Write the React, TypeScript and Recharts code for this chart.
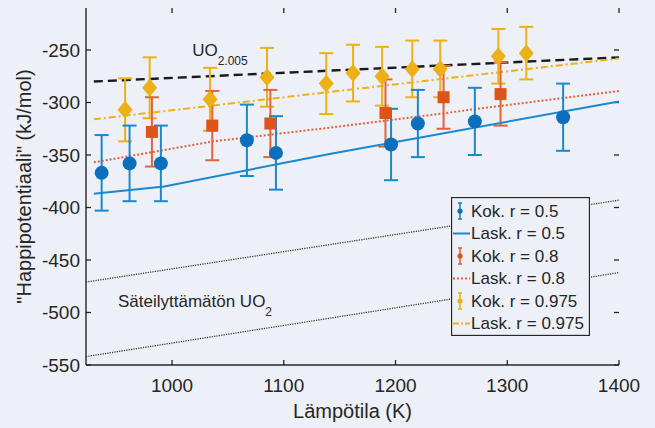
import React from 'react';
import {
  ComposedChart,
  XAxis,
  YAxis,
  Line,
  Scatter,
  ErrorBar,
  ReferenceDot,
  ReferenceLine,
  Label,
  Legend,
} from 'recharts';

const BG = '#eef0f7';
const AXIS = '#262626';
const FONT = '"Liberation Sans", Arial, Helvetica, sans-serif';

const BLUE = '#0b6fbb';
const BLUE_LINE = '#1a88cf';
const RED = '#dd5419';
const RED_LINE = '#e2623a';
const YELLOW = '#edb116';

// Axis ranges and ticks
const xDomain: [number, number] = [923, 1400];
const yDomain: [number, number] = [-550, -210];
const xTicks = [1000, 1100, 1200, 1300, 1400];
const yTicks = [-550, -500, -450, -400, -350, -300, -250];

// Measured values (Kok.) with error half-widths
const kok05T = [937, 962, 990, 1067, 1093, 1196, 1220, 1271, 1350];
const kok05V = [-367, -358, -358, -336, -348, -340, -320, -318, -314];
const kok05E = [36, 36, 36, 34, 35, 34, 32, 32, 32];

const kok08T = [982, 1036, 1088, 1191, 1243, 1294];
const kok08V = [-328, -322, -320, -310, -295, -292];
const kok08E = [33, 33, 32, 32, 30, 30];

const kok0975T = [958, 980, 1034, 1085, 1138, 1162, 1188, 1215, 1240, 1292, 1317];
const kok0975V = [-307, -286, -297, -276, -282, -272, -275, -268, -268, -256, -253];
const kok0975E = [30, 29, 30, 28, 29, 27, 28, 27, 27, 26, 25];

// Calculated curves (Lask.)
const lask05T = [930, 993, 1141, 1400];
const lask05V = [-387, -380, -349, -299];

const lask08T = [930, 989, 1037, 1141, 1400];
const lask08V = [-357, -346, -337, -324, -289];

const lask0975T = [930, 1400];
const lask0975V = [-316, -258];

// Reference lines: UO2.005 and unirradiated UO2 band
const uo2005T = [930, 1400];
const uo2005V = [-280, -257];

const uo2UpperT = [923, 1400];
const uo2UpperV = [-471, -393];
const uo2LowerT = [923, 1400];
const uo2LowerV = [-542, -462];

// Text annotation anchors (data coordinates)
const uo2005Label = { t: 1018, v: -255.7 };
const unirradLabel = { t: 951.6, v: -495 };

const zip = (t: number[], v: number[], e?: number[]) =>
  t.map((x, i) => ({ t: x, v: v[i], e: e ? e[i] : undefined }));

const kok05 = zip(kok05T, kok05V, kok05E);
const kok08 = zip(kok08T, kok08V, kok08E);
const kok0975 = zip(kok0975T, kok0975V, kok0975E);
const lask05 = zip(lask05T, lask05V);
const lask08 = zip(lask08T, lask08V);
const lask0975 = zip(lask0975T, lask0975V);
const uo2005 = zip(uo2005T, uo2005V);
const uo2Upper = zip(uo2UpperT, uo2UpperV);
const uo2Lower = zip(uo2LowerT, uo2LowerV);

// Plot box size in pixels, used to express the inward tick length in data units
const PLOT_W = 533;
const PLOT_H = 357;
const TICK_PX = 5;
const xTickLen = (TICK_PX * (xDomain[1] - xDomain[0])) / PLOT_W;
const yTickLen = (TICK_PX * (yDomain[1] - yDomain[0])) / PLOT_H;

const CircleMark = (p: any) => <circle cx={p.cx} cy={p.cy} r={7} fill={BLUE} />;
const SquareMark = (p: any) => (
  <rect x={p.cx - 6} y={p.cy - 6} width={12} height={12} fill={RED} />
);
const DiamondMark = (p: any) => (
  <polygon
    points={`${p.cx},${p.cy - 9} ${p.cx + 7.5},${p.cy} ${p.cx},${p.cy + 9} ${p.cx - 7.5},${p.cy}`}
    fill={YELLOW}
  />
);

type LegendItem = {
  label: string;
  kind: 'err' | 'line';
  color: string;
  marker?: string;
  dash?: string;
};

const legendItems: LegendItem[] = [
  { label: 'Kok. r = 0.5', kind: 'err', color: BLUE_LINE, marker: BLUE },
  { label: 'Lask. r = 0.5', kind: 'line', color: BLUE_LINE },
  { label: 'Kok. r = 0.8', kind: 'err', color: RED_LINE, marker: RED },
  { label: 'Lask. r = 0.8', kind: 'line', color: RED_LINE, dash: '2 2' },
  { label: 'Kok. r = 0.975', kind: 'err', color: YELLOW, marker: YELLOW },
  { label: 'Lask. r = 0.975', kind: 'line', color: YELLOW, dash: '6 2 2 2' },
];

const renderLegend = () => (
  <svg width={139} height={139} style={{ display: 'block' }}>
    <rect x={0.5} y={0.5} width={138} height={138} fill={BG} stroke={AXIS} strokeWidth={1.3} />
    {legendItems.map((it, i) => {
      const cy = 14 + i * 22.5;
      return (
        <g key={it.label}>
          {it.kind === 'err' ? (
            <g>
              <line x1={9} x2={9} y1={cy - 8} y2={cy + 8} stroke={it.color} strokeWidth={1.6} />
              <line x1={7} x2={11} y1={cy - 8} y2={cy - 8} stroke={it.color} strokeWidth={1.6} />
              <line x1={7} x2={11} y1={cy + 8} y2={cy + 8} stroke={it.color} strokeWidth={1.6} />
              <circle cx={9} cy={cy} r={2.6} fill={it.marker} />
            </g>
          ) : (
            <line
              x1={2}
              x2={19}
              y1={cy}
              y2={cy}
              stroke={it.color}
              strokeWidth={2}
              strokeDasharray={it.dash}
            />
          )}
          <text
            x={20}
            y={cy}
            dominantBaseline="central"
            fontFamily={FONT}
            fontSize={17}
            fill={AXIS}
          >
            {it.label}
          </text>
        </g>
      );
    })}
  </svg>
);

const SubText = (main: string, sub: string, dy: number) => (props: any) => {
  const vb = props.viewBox || {};
  return (
    <text x={vb.x} y={vb.y} fontFamily={FONT} fontSize={17} fill={AXIS}>
      <tspan>{main}</tspan>
      <tspan fontSize={12} dy={dy}>
        {sub}
      </tspan>
    </text>
  );
};

const YLabel = (props: any) => {
  const vb = props.viewBox;
  const x = vb.x + 24;
  const y = vb.y + vb.height / 2;
  return (
    <text
      x={x}
      y={y}
      transform={`rotate(-90, ${x}, ${y})`}
      textAnchor="middle"
      dominantBaseline="central"
      fontFamily={FONT}
      fontSize={20}
      fill={AXIS}
    >
      "Happipotentiaali" (kJ/mol)
    </text>
  );
};

const XLabel = (props: any) => {
  const vb = props.viewBox;
  return (
    <text
      x={vb.x + vb.width / 2}
      y={vb.y + 53}
      textAnchor="middle"
      fontFamily={FONT}
      fontSize={20}
      fill={AXIS}
    >
      Lämpötila (K)
    </text>
  );
};

const tickStyle = { fill: AXIS, fontSize: 19, fontFamily: FONT };
const axisLine = { stroke: AXIS, strokeWidth: 1.4 };
const tickLineProps = { stroke: AXIS, strokeWidth: 1.3, ifOverflow: 'visible' as const };

export default function App() {
  return (
    <div
      style={{
        position: 'fixed',
        left: 0,
        top: 0,
        width: 655,
        height: 428,
        background: BG,
      }}
    >
      <ComposedChart width={655} height={428} margin={{ top: 8, right: 36, bottom: 0, left: 0 }}>
        <XAxis
          dataKey="t"
          type="number"
          domain={xDomain}
          ticks={xTicks}
          allowDataOverflow
          height={63}
          tickLine={false}
          tickSize={0}
          tickMargin={13.5}
          stroke={AXIS}
          axisLine={axisLine}
          tick={tickStyle}
        >
          <Label content={XLabel} />
        </XAxis>
        <XAxis
          xAxisId="top"
          orientation="top"
          dataKey="t"
          type="number"
          domain={xDomain}
          ticks={xTicks}
          allowDataOverflow
          height={0}
          tickLine={false}
          tick={false}
          stroke={AXIS}
          axisLine={axisLine}
        />
        <YAxis
          type="number"
          domain={yDomain}
          ticks={yTicks}
          allowDataOverflow
          width={86}
          tickLine={false}
          tickSize={0}
          tickMargin={6}
          stroke={AXIS}
          axisLine={axisLine}
          tick={tickStyle}
        >
          <Label content={YLabel} />
        </YAxis>
        <YAxis
          yAxisId="right"
          orientation="right"
          type="number"
          domain={yDomain}
          ticks={yTicks}
          allowDataOverflow
          width={0}
          tickLine={false}
          tick={false}
          stroke={AXIS}
          axisLine={axisLine}
        />

        {/* Inward tick marks on all four sides */}
        {xTicks.map((t) => (
          <ReferenceLine
            key={`xb${t}`}
            segment={[
              { x: t, y: yDomain[0] },
              { x: t, y: yDomain[0] + yTickLen },
            ]}
            {...tickLineProps}
          />
        ))}
        {xTicks.map((t) => (
          <ReferenceLine
            key={`xt${t}`}
            segment={[
              { x: t, y: yDomain[1] },
              { x: t, y: yDomain[1] - yTickLen },
            ]}
            {...tickLineProps}
          />
        ))}
        {yTicks.map((v) => (
          <ReferenceLine
            key={`yl${v}`}
            segment={[
              { x: xDomain[0], y: v },
              { x: xDomain[0] + xTickLen, y: v },
            ]}
            {...tickLineProps}
          />
        ))}
        {yTicks.map((v) => (
          <ReferenceLine
            key={`yr${v}`}
            segment={[
              { x: xDomain[1], y: v },
              { x: xDomain[1] - xTickLen, y: v },
            ]}
            {...tickLineProps}
          />
        ))}

        {/* Reference lines */}
        <Line data={uo2Upper} dataKey="v" stroke="#333" strokeWidth={1.3} strokeDasharray="1.2 1.2" dot={false} isAnimationActive={false} legendType="none" />
        <Line data={uo2Lower} dataKey="v" stroke="#333" strokeWidth={1.3} strokeDasharray="1.2 1.2" dot={false} isAnimationActive={false} legendType="none" />
        <Line data={uo2005} dataKey="v" stroke="#1a1a1a" strokeWidth={2.4} strokeDasharray="9 5" dot={false} isAnimationActive={false} legendType="none" />

        {/* r = 0.975 */}
        <Scatter data={kok0975} dataKey="v" fill={YELLOW} shape={DiamondMark} isAnimationActive={false} legendType="none">
          <ErrorBar dataKey="e" direction="y" width={7} stroke={YELLOW} strokeWidth={2} isAnimationActive={false} />
        </Scatter>
        <Line data={lask0975} dataKey="v" stroke={YELLOW} strokeWidth={2} strokeDasharray="7 3 2 3" dot={false} isAnimationActive={false} legendType="none" />

        {/* r = 0.8 */}
        <Scatter data={kok08} dataKey="v" fill={RED} shape={SquareMark} isAnimationActive={false} legendType="none">
          <ErrorBar dataKey="e" direction="y" width={7} stroke={RED_LINE} strokeWidth={2} isAnimationActive={false} />
        </Scatter>
        <Line data={lask08} dataKey="v" stroke={RED_LINE} strokeWidth={2} strokeDasharray="2 2" dot={false} isAnimationActive={false} legendType="none" />

        {/* r = 0.5 */}
        <Scatter data={kok05} dataKey="v" fill={BLUE} shape={CircleMark} isAnimationActive={false} legendType="none">
          <ErrorBar dataKey="e" direction="y" width={7} stroke={BLUE_LINE} strokeWidth={2} isAnimationActive={false} />
        </Scatter>
        <Line data={lask05} dataKey="v" stroke={BLUE_LINE} strokeWidth={2} dot={false} isAnimationActive={false} legendType="none" />

        <ReferenceDot
          x={uo2005Label.t}
          y={uo2005Label.v}
          r={0}
          fill="none"
          stroke="none"
          label={<Label content={SubText('UO', '2.005', 9)} />}
        />
        <ReferenceDot
          x={unirradLabel.t}
          y={unirradLabel.v}
          r={0}
          fill="none"
          stroke="none"
          label={<Label content={SubText('Säteilyttämätön UO', '2', 9)} />}
        />

        <Legend
          layout="vertical"
          align="center"
          verticalAlign="middle"
          content={renderLegend}
          wrapperStyle={{ position: 'absolute', left: 451, top: 197, width: 139, height: 139 }}
        />
      </ComposedChart>
    </div>
  );
}
